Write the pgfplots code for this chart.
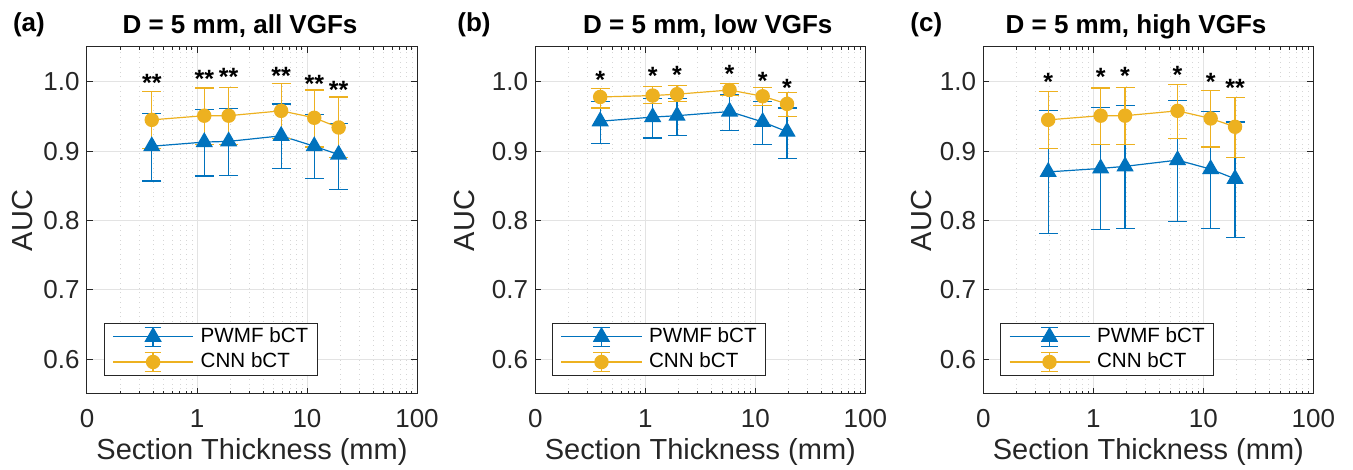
\documentclass[border=0pt]{standalone}
\usepackage{fontspec}
\setmainfont{Liberation Sans}
\usepackage{pgfplots}
\pgfplotsset{compat=1.18}
\usepackage{pgfplotstable}
\definecolor{mblue}{rgb}{0,0.447,0.741}
\definecolor{myel}{rgb}{0.929,0.694,0.125}
\definecolor{axgray}{rgb}{0.15,0.15,0.15}

% panel (a)
\pgfplotstableread{
x y ep em
0.388 0.907 0.047 0.050
1.164 0.913 0.047 0.049
1.94 0.914 0.047 0.049
5.82 0.922 0.046 0.047
11.64 0.907 0.046 0.046
19.4 0.895 0.045 0.050
}\aP
\pgfplotstableread{
x y ep em
0.388 0.945 0.041 0.041
1.164 0.951 0.040 0.0415
1.94 0.951 0.041 0.0415
5.82 0.958 0.039 0.040
11.64 0.948 0.040 0.042
19.4 0.934 0.044 0.043
}\aC
% panel (b)
\pgfplotstableread{
x y ep em
0.388 0.943 0.029 0.032
1.164 0.949 0.027 0.030
1.94 0.951 0.025 0.028
5.82 0.957 0.024 0.027
11.64 0.942 0.030 0.033
19.4 0.928 0.034 0.0385
}\bP
\pgfplotstableread{
x y ep em
0.388 0.978 0.012 0.016
1.164 0.980 0.013 0.011
1.94 0.982 0.012 0.011
5.82 0.988 0.009 0.008
11.64 0.979 0.013 0.013
19.4 0.968 0.017 0.018
}\bC
% panel (c)
\pgfplotstableread{
x y ep em
0.388 0.870 0.088 0.089
1.164 0.875 0.0875 0.088
1.94 0.878 0.088 0.090
5.82 0.887 0.086 0.088
11.64 0.874 0.083 0.086
19.4 0.860 0.082 0.085
}\cP
\pgfplotstableread{
x y ep em
0.388 0.945 0.041 0.041
1.164 0.951 0.040 0.0415
1.94 0.951 0.041 0.0415
5.82 0.958 0.038 0.040
11.64 0.947 0.040 0.041
19.4 0.935 0.042 0.044
}\cC

\tikzset{sig/.style={font=\fontsize{12.5}{14}\selectfont\bfseries, anchor=base, inner sep=0pt}}

\newcommand{\pwmfplot}[1]{%
\addplot[mblue, line width=0.6pt, mark=triangle*, mark size=4.4pt,
    mark options={solid, fill=mblue, draw=mblue},
    legend image code/.code={
      \draw[mblue, line width=0.6pt] (0pt,0pt) -- (40pt,0pt);
      \draw[mblue, line width=0.6pt] (20pt,-4.75pt) -- (20pt,4.75pt);
      \draw[mblue, line width=0.6pt] (15.8pt,4.75pt) -- (24.2pt,4.75pt);
      \draw[mblue, line width=0.6pt] (15.8pt,-4.75pt) -- (24.2pt,-4.75pt);
      \fill[mblue] (20pt,4.4pt) -- (23.81pt,-2.2pt) -- (16.19pt,-2.2pt) -- cycle;
    },
    error bars/.cd, y dir=both, y explicit, error mark=-,
    error mark options={rotate=90, mark size=4.75pt, line width=0.6pt, draw=mblue},
    error bar style={line width=0.6pt, mblue}]
  table[x=x, y=y, y error plus=ep, y error minus=em] {#1};
}
\newcommand{\cnnplot}[1]{%
\addplot[myel, line width=0.6pt, mark=*, mark size=3.3pt,
    mark options={solid, fill=myel, draw=myel},
    legend image code/.code={
      \draw[myel, line width=0.6pt] (0pt,0pt) -- (40pt,0pt);
      \draw[myel, line width=0.6pt] (20pt,-4.75pt) -- (20pt,4.75pt);
      \draw[myel, line width=0.6pt] (15.8pt,4.75pt) -- (24.2pt,4.75pt);
      \draw[myel, line width=0.6pt] (15.8pt,-4.75pt) -- (24.2pt,-4.75pt);
      \fill[myel] (20pt,0pt) circle (3.3pt);
    },
    error bars/.cd, y dir=both, y explicit, error mark=-,
    error mark options={rotate=90, mark size=4.75pt, line width=0.6pt, draw=myel},
    error bar style={line width=0.6pt, myel}]
  table[x=x, y=y, y error plus=ep, y error minus=em] {#1};
}

\begin{document}
\begin{tikzpicture}
\useasboundingbox (0,0) rectangle (676.5pt,235pt);

% ---------- (a)
\begin{axis}[at={(43.5pt,38pt)}, anchor=south west,
    width=165pt, height=173.5pt, scale only axis,
    xmode=log, xmin=0.1, xmax=100, ymin=0.55, ymax=1.05,
    xtick={0.1,1,10,100}, xticklabels={0,1,10,100},
    minor xtick={0.2,0.3,0.4,0.5,0.6,0.7,0.8,0.9,2,3,4,5,6,7,8,9,20,30,40,50,60,70,80,90},
    ytick={0.6,0.7,0.8,0.9,1.0}, yticklabels={0.6,0.7,0.8,0.9,1.0},
    tick align=inside, major tick length=3pt, minor tick length=1.7pt,
    axis line style={draw=axgray, line width=0.5pt},
    tick style={draw=axgray, line width=0.5pt},
    xmajorgrids, ymajorgrids, xminorgrids,
    major grid style={draw=gray!22, line width=0.5pt},
    minor grid style={draw=gray!32, dotted, line width=0.4pt},
    ticklabel style={font=\fontsize{13}{15}\selectfont, text=axgray},
    xticklabel style={inner sep=0pt, yshift=-7.5pt},
    yticklabel style={inner sep=0pt, xshift=-3.5pt},
    xlabel={Section Thickness (mm)}, ylabel={AUC},
    label style={font=\fontsize{14.5}{17}\selectfont, text=axgray, inner sep=0pt},
    xlabel style={at={(axis description cs:0.5,-0.190)}, anchor=base},
    ylabel style={at={(axis description cs:-0.1636,0.5)}, anchor=south},
    legend style={at={(axis description cs:0.0515,0.053)}, anchor=south west,
      draw=axgray, line width=0.5pt, fill=white,
      font=\fontsize{10.3}{12}\selectfont, text=black,
      inner xsep=4pt, inner ysep=1.5pt, row sep=2.5pt,
      nodes={inner sep=0.5pt},
      /tikz/every odd column/.append style={column sep=3pt}},
    legend cell align=left]
\pwmfplot{\aP}
\addlegendentry{PWMF bCT}
\cnnplot{\aC}
\addlegendentry{CNN bCT}
\node[sig] at (axis cs:0.388,0.986) {**};
\node[sig] at (axis cs:1.164,0.992) {**};
\node[sig] at (axis cs:1.94,0.994) {**};
\node[sig] at (axis cs:5.82,0.996) {**};
\node[sig] at (axis cs:11.64,0.985) {**};
\node[sig] at (axis cs:19.4,0.976) {**};
\end{axis}

% ---------- (b)
\begin{axis}[at={(267.7pt,38pt)}, anchor=south west,
    width=165pt, height=173.5pt, scale only axis,
    xmode=log, xmin=0.1, xmax=100, ymin=0.55, ymax=1.05,
    xtick={0.1,1,10,100}, xticklabels={0,1,10,100},
    minor xtick={0.2,0.3,0.4,0.5,0.6,0.7,0.8,0.9,2,3,4,5,6,7,8,9,20,30,40,50,60,70,80,90},
    ytick={0.6,0.7,0.8,0.9,1.0}, yticklabels={0.6,0.7,0.8,0.9,1.0},
    tick align=inside, major tick length=3pt, minor tick length=1.7pt,
    axis line style={draw=axgray, line width=0.5pt},
    tick style={draw=axgray, line width=0.5pt},
    xmajorgrids, ymajorgrids, xminorgrids,
    major grid style={draw=gray!22, line width=0.5pt},
    minor grid style={draw=gray!32, dotted, line width=0.4pt},
    ticklabel style={font=\fontsize{13}{15}\selectfont, text=axgray},
    xticklabel style={inner sep=0pt, yshift=-7.5pt},
    yticklabel style={inner sep=0pt, xshift=-3.5pt},
    xlabel={Section Thickness (mm)}, ylabel={AUC},
    label style={font=\fontsize{14.5}{17}\selectfont, text=axgray, inner sep=0pt},
    xlabel style={at={(axis description cs:0.5,-0.190)}, anchor=base},
    ylabel style={at={(axis description cs:-0.1818,0.5)}, anchor=south},
    legend style={at={(axis description cs:0.0515,0.053)}, anchor=south west,
      draw=axgray, line width=0.5pt, fill=white,
      font=\fontsize{10.3}{12}\selectfont, text=black,
      inner xsep=4pt, inner ysep=1.5pt, row sep=2.5pt,
      nodes={inner sep=0.5pt},
      /tikz/every odd column/.append style={column sep=3pt}},
    legend cell align=left]
\pwmfplot{\bP}
\addlegendentry{PWMF bCT}
\cnnplot{\bC}
\addlegendentry{CNN bCT}
\node[sig] at (axis cs:0.388,0.990) {*};
\node[sig] at (axis cs:1.164,0.996) {*};
\node[sig] at (axis cs:1.94,0.997) {*};
\node[sig] at (axis cs:5.82,0.999) {*};
\node[sig] at (axis cs:11.64,0.989) {*};
\node[sig] at (axis cs:19.4,0.979) {*};
\end{axis}

% ---------- (c)
\begin{axis}[at={(491.7pt,38pt)}, anchor=south west,
    width=165pt, height=173.5pt, scale only axis,
    xmode=log, xmin=0.1, xmax=100, ymin=0.55, ymax=1.05,
    xtick={0.1,1,10,100}, xticklabels={0,1,10,100},
    minor xtick={0.2,0.3,0.4,0.5,0.6,0.7,0.8,0.9,2,3,4,5,6,7,8,9,20,30,40,50,60,70,80,90},
    ytick={0.6,0.7,0.8,0.9,1.0}, yticklabels={0.6,0.7,0.8,0.9,1.0},
    tick align=inside, major tick length=3pt, minor tick length=1.7pt,
    axis line style={draw=axgray, line width=0.5pt},
    tick style={draw=axgray, line width=0.5pt},
    xmajorgrids, ymajorgrids, xminorgrids,
    major grid style={draw=gray!22, line width=0.5pt},
    minor grid style={draw=gray!32, dotted, line width=0.4pt},
    ticklabel style={font=\fontsize{13}{15}\selectfont, text=axgray},
    xticklabel style={inner sep=0pt, yshift=-7.5pt},
    yticklabel style={inner sep=0pt, xshift=-3.5pt},
    xlabel={Section Thickness (mm)}, ylabel={AUC},
    label style={font=\fontsize{14.5}{17}\selectfont, text=axgray, inner sep=0pt},
    xlabel style={at={(axis description cs:0.5,-0.190)}, anchor=base},
    ylabel style={at={(axis description cs:-0.1566,0.5)}, anchor=south},
    legend style={at={(axis description cs:0.0515,0.053)}, anchor=south west,
      draw=axgray, line width=0.5pt, fill=white,
      font=\fontsize{10.3}{12}\selectfont, text=black,
      inner xsep=4pt, inner ysep=1.5pt, row sep=2.5pt,
      nodes={inner sep=0.5pt},
      /tikz/every odd column/.append style={column sep=3pt}},
    legend cell align=left]
\pwmfplot{\cP}
\addlegendentry{PWMF bCT}
\cnnplot{\cC}
\addlegendentry{CNN bCT}
\node[sig] at (axis cs:0.388,0.988) {*};
\node[sig] at (axis cs:1.164,0.994) {*};
\node[sig] at (axis cs:1.94,0.996) {*};
\node[sig] at (axis cs:5.82,0.997) {*};
\node[sig] at (axis cs:11.64,0.987) {*};
\node[sig] at (axis cs:19.4,0.978) {**};
\end{axis}

% titles and panel letters
\begin{scope}[every node/.style={font=\fontsize{13}{15}\selectfont\bfseries, inner sep=0pt}]
\node[anchor=base] at (120pt,218pt) {D = 5 mm, all VGFs};
\node[anchor=base] at (353.9pt,218pt) {D = 5 mm, low VGFs};
\node[anchor=base] at (568pt,218pt) {D = 5 mm, high VGFs};
\node[anchor=base west] at (6.3pt,219pt) {(a)};
\node[anchor=base west] at (228.5pt,219pt) {(b)};
\node[anchor=base west] at (455pt,219pt) {(c)};
\end{scope}
\end{tikzpicture}
\end{document}
